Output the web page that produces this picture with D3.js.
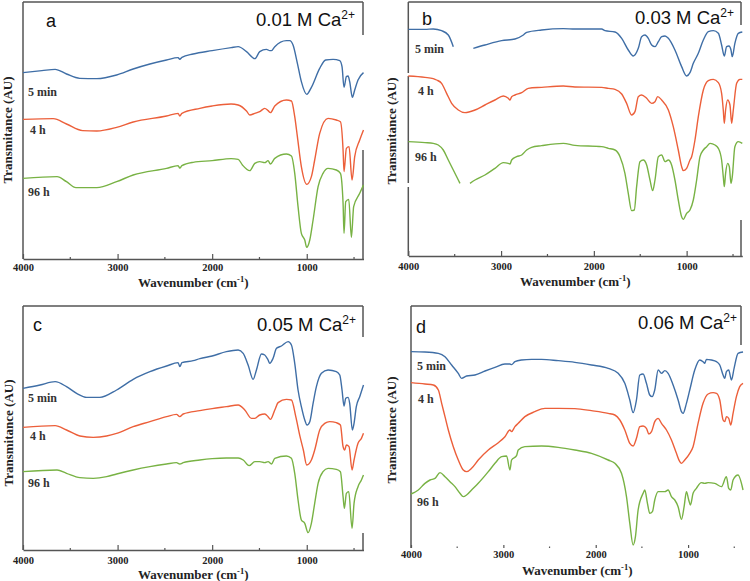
<!DOCTYPE html>
<html>
<head>
<meta charset="utf-8">
<script src="https://cdn.jsdelivr.net/npm/d3@7"></script>
<style>
  html, body { margin: 0; padding: 0; background: #fff; }
  svg { display: block; }
</style>
</head>
<body>
<svg id="chart" width="750" height="581"></svg>
<script>
// ---------------- DATA ----------------
const panelLetters = ["a", "b", "c", "d"];
const concentrations = ["0.01", "0.03", "0.05", "0.06"];
const seriesLabels = ["5 min", "4 h", "96 h"];
const seriesColors = ["#3f6ea6", "#ec5f3a", "#78b244"];
const xDomain = [4000, 400];
const xTickValues = [4000, 3000, 2000, 1000];
const xMinorTickValues = [3500, 2500, 1500, 500];

// [wavenumber (cm-1), transmittance (AU)]; null = missing data
const a5min = [[4000,78.2],[3800,78.8],[3660,79.2],[3540,77.8],[3400,76.5],[3220,76.4],[3010,77.5],[2835,79.3],[2658,80.8],[2482,82.0],[2360,82.7],[2342,82.2],[2320,82.8],[2201,83.8],[2000,84.8],[1799,85.7],[1725,86.0],[1637,84.5],[1549,82.4],[1497,84.5],[1426,85.2],[1390,84.8],[1373,84.8],[1338,86.0],[1215,87.8],[1180,87.8],[1145,86.5],[1099,81.0],[1057,75.5],[1000,71.7],[951,73.8],[863,79.5],[800,82.0],[722,82.2],[651,81.8],[627,80.0],[606,73.8],[581,77.0],[563,77.2],[546,75.5],[518,70.8],[493,73.0],[458,76.0],[400,78.2]];
const a4h = [[4000,64.2],[3680,64.4],[3540,62.8],[3370,60.8],[3220,60.7],[3010,61.8],[2835,63.4],[2482,65.2],[2360,66.0],[2342,65.2],[2320,66.0],[2130,67.5],[2000,68.2],[1800,68.8],[1725,68.5],[1637,66.7],[1602,65.5],[1549,66.0],[1497,66.5],[1444,67.5],[1409,66.8],[1384,66.2],[1338,68.2],[1215,70.0],[1162,69.7],[1127,65.0],[1099,59.0],[1057,50.0],[1000,44.7],[951,47.0],[916,52.0],[863,60.0],[775,64.5],[687,64.0],[644,63.5],[616,55.0],[606,48.5],[581,55.5],[553,56.0],[521,46.0],[493,53.0],[440,58.0],[400,61.0]];
const a96h = [[4000,46.5],[3640,47.0],[3540,45.5],[3440,43.7],[3220,43.7],[3010,45.5],[2835,47.5],[2482,49.5],[2360,50.3],[2342,49.6],[2320,50.3],[2201,51.3],[2000,51.8],[1799,52.4],[1725,52.2],[1680,50.5],[1602,48.8],[1549,51.0],[1497,51.5],[1444,51.2],[1409,51.8],[1384,50.8],[1338,52.5],[1215,53.8],[1162,53.2],[1127,48.0],[1092,38.0],[1057,30.0],[1021,28.0],[1000,25.8],[968,28.0],[933,34.0],[880,44.0],[828,48.0],[775,49.5],[687,49.0],[644,48.0],[616,39.0],[606,30.0],[588,39.5],[556,40.2],[528,28.8],[504,38.0],[440,42.0],[400,44.5]];

const b5min = [[4000,91.2],[3820,91.2],[3731,91.3],[3641,90.8],[3569,89.5],[3515,86.0],[3400,null],[3299,85.5],[3174,86.5],[2994,87.8],[2850,88.3],[2760,89.5],[2724,90.3],[2563,91.0],[2329,91.4],[2204,91.3],[1916,91.3],[1880,90.8],[1772,90.4],[1700,88.5],[1629,85.0],[1575,83.2],[1521,85.5],[1485,89.0],[1449,89.5],[1413,88.5],[1377,86.5],[1341,86.0],[1305,87.5],[1269,89.0],[1233,89.2],[1197,88.5],[1126,85.0],[1054,80.0],[1000,77.2],[964,78.2],[928,81.0],[874,84.0],[820,88.0],[766,90.5],[712,90.8],[658,90.0],[623,86.5],[594,83.2],[569,86.0],[544,86.2],[522,85.0],[508,83.0],[480,87.0],[443,90.0],[400,90.4]];
const b4h = [[4000,77.2],[3820,76.8],[3731,76.4],[3695,76.0],[3641,75.0],[3587,72.0],[3533,69.0],[3461,67.0],[3389,66.2],[3281,67.0],[3174,68.5],[3066,70.0],[2976,71.2],[2922,70.5],[2904,70.0],[2886,71.0],[2850,71.5],[2778,72.2],[2707,73.5],[2563,73.8],[2329,74.2],[2204,73.9],[1916,73.8],[1844,73.5],[1772,73.2],[1700,71.8],[1647,69.0],[1593,65.5],[1557,66.5],[1521,71.0],[1485,71.5],[1431,70.5],[1377,69.0],[1341,69.5],[1312,71.0],[1269,70.0],[1197,67.0],[1144,62.0],[1090,55.0],[1054,50.0],[1036,48.8],[1000,49.5],[964,52.0],[946,53.0],[910,58.0],[874,65.0],[820,73.0],[766,75.8],[712,76.2],[658,75.2],[623,72.0],[605,67.0],[594,63.0],[580,67.0],[558,70.0],[533,68.5],[515,63.0],[497,67.0],[461,75.0],[425,76.2],[400,76.2]];
const b96h = [[4000,57.5],[3820,57.2],[3731,57.0],[3677,56.5],[3623,55.0],[3569,52.0],[3515,49.0],[3461,46.0],[3443,45.0],[3390,null],[3335,45.0],[3281,46.0],[3174,47.5],[3066,49.5],[2976,51.2],[2922,51.0],[2904,50.8],[2886,52.0],[2832,53.0],[2778,53.5],[2724,55.0],[2671,55.8],[2563,56.3],[2329,57.0],[2204,56.4],[1916,56.0],[1844,55.5],[1772,55.0],[1718,53.0],[1665,48.0],[1629,42.0],[1593,36.8],[1564,37.0],[1539,44.0],[1503,51.5],[1467,52.0],[1431,50.5],[1395,46.0],[1366,42.8],[1341,46.0],[1305,53.0],[1269,53.5],[1233,51.5],[1197,52.0],[1162,50.5],[1126,46.0],[1090,40.0],[1054,35.0],[1036,34.2],[1000,36.0],[964,37.0],[928,40.0],[892,46.0],[856,53.0],[820,55.0],[784,56.0],[748,57.0],[694,56.5],[658,55.5],[623,52.0],[605,47.0],[594,44.0],[580,48.0],[558,51.0],[540,50.0],[522,45.0],[508,47.0],[480,56.0],[443,57.5],[400,57.0]];

const c5min = [[4000,70.5],[3820,71.5],[3660,72.5],[3540,71.0],[3433,69.0],[3327,67.8],[3187,67.8],[3010,70.0],[2835,73.2],[2658,75.5],[2482,77.2],[2360,78.2],[2342,77.0],[2320,78.2],[2201,78.8],[2130,79.4],[2000,80.2],[1850,81.5],[1725,82.0],[1672,81.0],[1620,77.5],[1567,73.2],[1532,76.0],[1479,80.8],[1444,80.5],[1409,79.0],[1391,78.0],[1356,79.5],[1320,82.5],[1268,83.2],[1197,84.5],[1162,83.5],[1127,78.0],[1092,70.0],[1057,65.0],[1021,61.0],[997,59.5],[968,60.5],[933,66.0],[898,71.0],[845,75.0],[775,76.0],[687,75.5],[651,74.5],[627,70.0],[606,65.2],[588,67.5],[563,67.8],[546,66.0],[518,58.0],[500,60.0],[476,65.0],[440,68.0],[400,71.5]];
const c4h = [[4000,58.8],[3660,59.3],[3540,58.0],[3398,56.2],[3257,55.8],[3116,56.2],[3010,57.0],[2835,59.0],[2658,60.5],[2482,62.0],[2377,62.7],[2342,62.0],[2306,62.8],[2130,63.8],[2000,64.4],[1850,65.0],[1725,65.5],[1655,64.0],[1585,61.5],[1549,61.5],[1497,62.5],[1444,62.8],[1409,62.0],[1384,61.2],[1338,64.0],[1303,66.2],[1215,67.2],[1162,67.0],[1116,62.0],[1071,56.0],[1036,52.0],[1000,47.5],[951,49.0],[916,52.0],[863,58.0],[810,60.0],[757,60.5],[687,60.2],[644,59.5],[616,53.0],[599,52.0],[581,53.5],[553,53.0],[521,46.0],[500,49.0],[458,54.0],[422,55.5],[400,57.0]];
const c96h = [[4000,45.5],[3640,46.0],[3540,45.0],[3398,43.7],[3257,43.5],[3116,44.0],[3010,44.8],[2835,46.0],[2658,47.0],[2482,47.8],[2377,48.2],[2342,47.8],[2306,48.2],[2130,49.0],[2000,49.4],[1850,49.6],[1725,49.6],[1672,49.0],[1610,47.3],[1549,48.5],[1497,48.5],[1444,48.2],[1409,48.5],[1373,47.8],[1338,49.5],[1215,50.2],[1162,49.5],[1127,45.0],[1092,37.0],[1057,31.0],[1021,30.0],[986,27.2],[951,30.0],[916,36.0],[880,42.0],[828,45.5],[775,46.5],[687,46.2],[644,45.5],[616,38.0],[602,34.5],[581,39.0],[556,39.5],[521,28.5],[500,36.0],[458,41.0],[422,43.0],[400,44.5]];

const d5min = [[4000,81.5],[3849,81.4],[3704,81.0],[3632,80.0],[3560,77.5],[3488,75.0],[3452,73.5],[3398,74.2],[3308,74.5],[3199,75.7],[3091,76.8],[2983,77.8],[2929,77.8],[2911,77.6],[2875,78.5],[2803,79.0],[2695,79.2],[2586,79.2],[2406,78.8],[2226,78.3],[2046,77.5],[1865,76.5],[1757,75.0],[1685,72.0],[1631,67.0],[1595,63.2],[1559,67.0],[1523,74.5],[1487,74.8],[1451,72.0],[1415,68.5],[1389,68.0],[1361,70.0],[1324,76.0],[1288,75.0],[1252,75.8],[1216,75.0],[1162,71.5],[1108,67.0],[1072,63.5],[1054,63.0],[1018,66.0],[982,70.0],[928,76.0],[874,79.0],[838,78.5],[820,78.0],[802,79.2],[747,79.0],[693,78.5],[657,77.5],[621,74.5],[603,73.5],[585,75.5],[560,76.0],[531,73.0],[502,76.5],[459,81.0],[405,81.4]];
const d4h = [[4000,72.2],[3849,71.8],[3758,71.5],[3704,70.0],[3668,66.0],[3632,62.0],[3596,58.0],[3542,53.0],[3488,49.0],[3434,46.0],[3398,45.5],[3344,46.5],[3272,49.0],[3163,52.0],[3055,54.2],[2983,56.0],[2929,58.0],[2911,57.5],[2875,59.0],[2839,60.0],[2767,62.0],[2659,63.5],[2550,64.5],[2406,64.5],[2226,64.4],[2046,63.8],[1865,63.0],[1793,62.5],[1739,61.0],[1685,58.0],[1631,54.0],[1595,53.2],[1559,55.5],[1523,59.0],[1487,59.2],[1451,58.5],[1425,56.8],[1396,57.5],[1361,60.5],[1324,61.5],[1288,60.0],[1234,58.0],[1180,55.0],[1126,51.0],[1090,48.5],[1072,48.0],[1036,49.0],[982,51.0],[946,53.0],[892,60.0],[838,66.0],[783,68.8],[729,69.2],[693,69.0],[657,67.0],[621,61.0],[603,60.5],[585,62.0],[560,61.5],[538,59.5],[513,63.0],[477,68.0],[441,71.0],[405,72.0]];
const d96h = [[4000,38.8],[3921,40.0],[3849,42.0],[3794,43.0],[3740,43.5],[3686,45.2],[3632,44.0],[3578,42.5],[3524,41.0],[3470,39.0],[3434,38.0],[3398,38.5],[3344,40.0],[3272,42.0],[3163,45.5],[3091,48.0],[3019,50.0],[2965,50.2],[2929,46.0],[2911,49.0],[2857,50.3],[2839,52.0],[2767,53.0],[2586,53.2],[2406,52.8],[2226,52.0],[2046,51.0],[1865,49.0],[1793,48.0],[1721,45.0],[1667,38.0],[1631,30.0],[1595,23.5],[1570,26.0],[1541,34.0],[1487,39.0],[1469,40.0],[1440,36.0],[1415,33.0],[1386,33.5],[1361,37.0],[1324,39.5],[1252,39.5],[1216,40.0],[1180,38.0],[1144,37.0],[1108,35.0],[1072,31.2],[1043,35.0],[1018,39.5],[993,37.0],[975,35.5],[946,39.0],[910,40.5],[856,42.2],[820,42.0],[783,42.2],[711,42.0],[639,41.0],[585,44.0],[560,40.5],[538,40.0],[513,43.0],[459,44.5],[405,40.0]];

const panelSeries = [[a5min, a4h, a96h], [b5min, b4h, b96h], [c5min, c4h, c96h], [d5min, d4h, d96h]];

// ---------------- LAYOUT ----------------
const layout = [
  { left: 23, right: 363.5, top: 2, bottom: 259, yDom: [22.3, 99.4], bottomLine: true,
    leftSegs: [[2, 259]], rightSegs: [[2, 35], [150, 259]],
    letter: [46, 27], title: [355, 26], ylab: [8, 130], xlabY: 287, tickY: 271,
    labels: [[28, 96], [30, 134], [28, 196]], major: 5, minor: 2 },
  { left: 408.3, right: 742.3, top: 2, bottom: 256, yDom: [23.2, 99.4], bottomLine: true,
    leftSegs: [[2, 73], [76, 183], [187, 256]], rightSegs: [[2, 25], [220, 256]],
    letter: [422, 25], title: [734, 24], ylab: [392, 131], xlabY: 286, tickY: 269.5,
    labels: [[415, 53], [418, 95], [415, 161]], major: 5, minor: 2 },
  { left: 23, right: 363.5, top: 306, bottom: 550, yDom: [22.0, 95.2], bottomLine: true,
    leftSegs: [[306, 550]], rightSegs: [[306, 337], [533, 550]],
    letter: [33, 331], title: [356, 331], ylab: [9, 433], xlabY: 578.5, tickY: 563.5,
    labels: [[28, 402], [30, 440], [28, 487]], major: 5, minor: 2 },
  { left: 411, right: 743.5, top: 306, bottom: 548, yDom: [22.6, 95.2], bottomLine: false,
    leftSegs: [[306, 548]], rightSegs: [[306, 345]],
    letter: [416, 333], title: [737, 329], ylab: [392, 430], xlabY: 575, tickY: 557.5,
    labels: [[417, 370], [418, 403], [417, 506]], major: 3, minor: 1.5 }
];

const svg = d3.select("#chart");
const axisColor = "#555";
const serif = "'Liberation Serif', 'Times New Roman', serif";
const sans = "'Liberation Sans', Arial, sans-serif";

layout.forEach((L, pi) => {
  const g = svg.append("g");
  const x = d3.scaleLinear().domain(xDomain).range([L.left, L.right]);
  const y = d3.scaleLinear().domain(L.yDom).range([L.bottom, L.top]);
  const borderRight = pi % 2 === 0 ? 363 : 741;

  // frame
  g.append("line").attr("x1", L.left).attr("x2", borderRight).attr("y1", L.top).attr("y2", L.top)
    .attr("stroke", axisColor).attr("stroke-width", 1.5);
  L.leftSegs.forEach(s => g.append("line").attr("x1", L.left).attr("x2", L.left).attr("y1", s[0]).attr("y2", s[1])
    .attr("stroke", axisColor).attr("stroke-width", 1.5));
  L.rightSegs.forEach(s => g.append("line").attr("x1", borderRight).attr("x2", borderRight).attr("y1", s[0]).attr("y2", s[1])
    .attr("stroke", axisColor).attr("stroke-width", 1.5));

  // x axis
  const axis = d3.axisBottom(x).tickValues(xTickValues).tickSize(0).tickFormat(d3.format("d"));
  const ax = g.append("g").attr("transform", `translate(0,${L.bottom})`).call(axis);
  ax.select(".domain").attr("stroke", L.bottomLine ? axisColor : "none").attr("stroke-width", 1.5);
  ax.selectAll("text").attr("font-family", serif).attr("font-weight", "bold").attr("font-size", 10.5)
    .attr("fill", "#222").attr("y", L.tickY - L.bottom).attr("dy", 0);
  ax.selectAll(".tick line").remove();
  ax.selectAll(".tick").append("line").attr("y1", 0).attr("y2", -L.major).attr("stroke", axisColor).attr("stroke-width", 1.2);
  ax.selectAll(".minor").data(xMinorTickValues).enter().append("line")
    .attr("x1", d => x(d)).attr("x2", d => x(d)).attr("y1", 0).attr("y2", -L.minor)
    .attr("stroke", axisColor).attr("stroke-width", 1.2);

  // spectra
  const line = d3.line().defined(d => d[1] != null).x(d => x(d[0])).y(d => y(d[1])).curve(d3.curveMonotoneX);
  panelSeries[pi].forEach((s, si) => {
    g.append("path").datum(s).attr("d", line).attr("fill", "none")
      .attr("stroke", seriesColors[si]).attr("stroke-width", 1.4).attr("stroke-linejoin", "round");
  });

  // series labels
  seriesLabels.forEach((lab, si) => {
    g.append("text").attr("x", L.labels[si][0]).attr("y", L.labels[si][1]).text(lab)
      .attr("font-family", serif).attr("font-weight", "bold").attr("font-size", 12).attr("fill", "#333");
  });

  // panel letter and title
  g.append("text").attr("x", L.letter[0]).attr("y", L.letter[1]).text(panelLetters[pi])
    .attr("font-family", sans).attr("font-size", 18).attr("fill", "#111");
  const t = g.append("text").attr("x", L.title[0]).attr("y", L.title[1]).attr("text-anchor", "end")
    .attr("font-family", sans).attr("font-size", 18.5).attr("fill", "#111");
  t.append("tspan").text(concentrations[pi] + " M Ca");
  t.append("tspan").text("2+").attr("font-size", 12).attr("dy", -7);

  // y label
  g.append("text").attr("transform", `translate(${L.ylab[0] + 4},${L.ylab[1]}) rotate(-90)`)
    .attr("text-anchor", "middle").attr("font-family", serif).attr("font-weight", "bold")
    .attr("font-size", 13).attr("fill", "#222").text("Transmitance (AU)");

  // x label
  const xl = g.append("text").attr("x", (L.left + L.right) / 2).attr("y", L.xlabY).attr("text-anchor", "middle")
    .attr("font-family", serif).attr("font-weight", "bold").attr("font-size", 13).attr("fill", "#222");
  xl.append("tspan").text("Wavenumber (cm");
  xl.append("tspan").text("-1").attr("font-size", 8.5).attr("dy", -5);
  xl.append("tspan").text(")").attr("dy", 5);
});
</script>
</body>
</html>
